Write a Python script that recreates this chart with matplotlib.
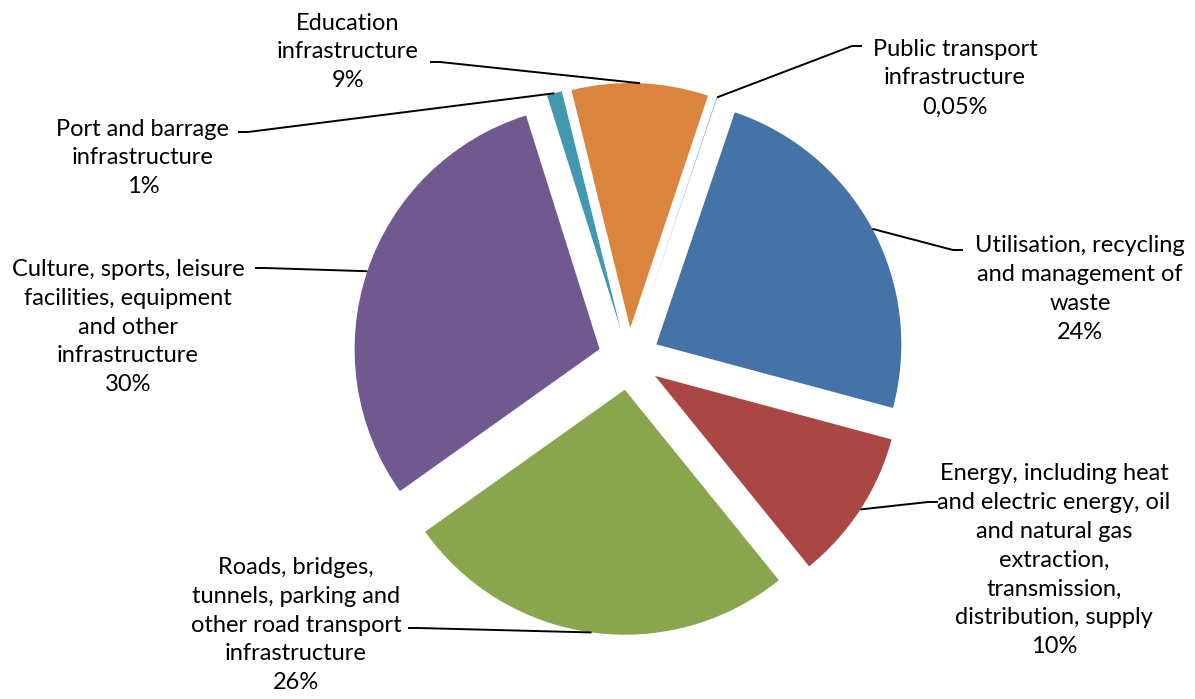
import numpy as np
import matplotlib
matplotlib.use("Agg")
import matplotlib.pyplot as plt

W, H = 1195, 699

# clockwise from the top, as in the reference
labels = ["Public transport\ninfrastructure\n0,05%",
          "Utilisation, recycling\nand management of\nwaste\n24%",
          "Energy, including heat\nand electric energy, oil\nand natural gas\nextraction,\ntransmission,\ndistribution, supply\n10%",
          "Roads, bridges,\ntunnels, parking and\nother road transport\ninfrastructure\n26%",
          "Culture, sports, leisure\nfacilities, equipment\nand other\ninfrastructure\n30%",
          "Port and barrage\ninfrastructure\n1%",
          "Education\ninfrastructure\n9%"]
shares = [0.05, 24, 10, 26, 30, 1, 9]
colors = ["#93A9CF", "#4572A7", "#AA4643", "#89A54E", "#71588F", "#4198AF", "#DB843D"]

# label centre (px from top-left), anchor of leader line, side of the short tick
label_pos = [(955, 78), (1080, 289), (1054, 560), (296, 625), (128, 327), (143, 158), (348, 52)]
anchor = [(862, 46), (963, 250), (938, 502), (408, 628), (255, 268), (238, 132), (430, 62)]
tick_dir = [-1, -1, -1, 1, 1, 1, 1]

plt.rcParams['font.family'] = ['Lato', 'DejaVu Sans']

fig = plt.figure(figsize=(W / 100, H / 100), dpi=100)
ax = fig.add_axes([0, 0, 1, 1])

R = 245
cx, cy = 629, H - 359
wedges, _ = ax.pie(shares, colors=colors, startangle=90 - 18.5, counterclock=False,
                   radius=R, center=(cx, cy), explode=[31] * len(shares),
                   wedgeprops=dict(linewidth=0))
ax.set_xlim(0, W)
ax.set_ylim(0, H)
ax.set_aspect('equal')
ax.axis('off')

for i, w in enumerate(wedges):
    th = np.deg2rad((w.theta1 + w.theta2) / 2)
    ex = w.center[0] + w.r * np.cos(th)
    ey = w.center[1] + w.r * np.sin(th)
    axp, ayp = anchor[i]
    ayp = H - ayp
    ax.plot([axp, axp + 10 * tick_dir[i], ex], [ayp, ayp, ey], color="black", lw=1.4,
            solid_capstyle='butt')
    lx, ly = label_pos[i]
    ax.text(lx, H - ly, labels[i], ha='center', va='center', fontsize=17,
            linespacing=1.47, color="black")

fig.savefig("out.png", dpi=100)
